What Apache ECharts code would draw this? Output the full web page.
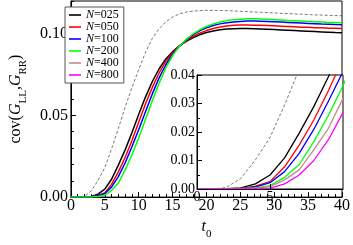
<!DOCTYPE html>
<html><head><meta charset="utf-8">
<script src="https://cdn.jsdelivr.net/npm/echarts@6/dist/echarts.min.js"></script>
<style>html,body{margin:0;padding:0;background:#fff}#c{width:353px;height:245px}</style>
</head><body><div id="c"></div>
<script>
const t0 = [0,1,2,3,4,5,6,7,8,9,10,11,12,13,14,15,16,17,18,19,20,21,22,23,24,25,26,27,28,29,30,31,32,33,34,35,36,37,38,39,40];
const seriesNames = ['N=025','N=050','N=100','N=200','N=400','N=800'];
const seriesColors = ['#000000','#ff0000','#0000ff','#00ff00','#bc8f8f','#ff00ff'];
const n025 = [0,0,0.0001,0.0004,0.0018,0.0049,0.0109,0.0196,0.0289,0.0394,0.0505,0.0612,0.0706,0.0784,0.0845,0.0890,0.0925,0.0953,0.0975,0.0993,0.1007,0.1017,0.1024,0.1028,0.1030,0.1031,0.1031,0.1030,0.1029,0.1027,0.1025,0.1023,0.1021,0.1019,0.1017,0.1015,0.1013,0.1011,0.1009,0.1007,0.1006];
const n050 = [0,0,0,0.0002,0.0010,0.0026,0.0078,0.0154,0.0242,0.0345,0.0458,0.0570,0.0670,0.0758,0.0830,0.0883,0.0924,0.0957,0.0983,0.1003,0.1019,0.1032,0.1041,0.1047,0.1051,0.1053,0.1053,0.1052,0.1051,0.1050,0.1048,0.1046,0.1044,0.1042,0.1040,0.1039,0.1037,0.1036,0.1034,0.1033,0.1032];
const n100 = [0,0,0,0.0001,0.0007,0.0022,0.0061,0.0125,0.0209,0.0308,0.0412,0.0522,0.0630,0.0728,0.0810,0.0874,0.0923,0.0962,0.0993,0.1017,0.1036,0.1050,0.1060,0.1067,0.1072,0.1075,0.1077,0.1077,0.1076,0.1075,0.1073,0.1071,0.1069,0.1067,0.1065,0.1063,0.1061,0.1059,0.1058,0.1056,0.1055];
const n200 = [0,0,0,0.0001,0.0004,0.0012,0.0041,0.0086,0.0166,0.0258,0.0362,0.0475,0.0588,0.0695,0.0790,0.0866,0.0923,0.0965,0.0998,0.1024,0.1044,0.1059,0.1071,0.1080,0.1086,0.1089,0.1091,0.1091,0.1090,0.1088,0.1086,0.1084,0.1081,0.1079,0.1077,0.1075,0.1073,0.1071,0.1069,0.1068,0.1067];
const n400 = [0,0,0,0.0001,0.0003,0.0008,0.0032,0.0067,0.0137,0.0213,0.0318];
const n800 = [0,0,0,0,0.0001,0.0003,0.0018,0.0049,0.0100,0.0173,0.0268];
const ref = [0,0,0.0005,0.0037,0.0102,0.0181,0.0295,0.0420,0.0550,0.0670,0.0780,0.0885,0.0970,0.1030,0.1072,0.1102,0.1121,0.1132,0.1138,0.1141,0.1143,0.1143,0.1142,0.1141,0.1139,0.1137,0.1135,0.1133,0.1131,0.1129,0.1127,0.1125,0.1123,0.1121,0.1119,0.1117,0.1115,0.1114,0.1112,0.1111,0.1110];
const mainXTicks = [0,40,5];
const mainYTicks = [0,0.12,0.05];
const insetXTicks = [0,10,5];
const insetYTicks = [0,0.04,0.01];

const allSets = [n025,n050,n100,n200,n400,n800];
const pairs = arr => arr.map((v,i)=>[t0[i],v]);
const F = 'Liberation Serif';

const series = [];
series.push({type:'line',xAxisIndex:0,yAxisIndex:0,data:pairs(ref),symbol:'none',silent:true,
  lineStyle:{color:'#555',width:0.8,type:[3,2]},z:2});
for (let k=0;k<4;k++) series.push({type:'line',name:seriesNames[k],xAxisIndex:0,yAxisIndex:0,data:pairs(allSets[k]),
  symbol:'none',color:seriesColors[k],lineStyle:{width:1.5,color:seriesColors[k]},z:3});
series.push({type:'line',xAxisIndex:1,yAxisIndex:2,data:pairs(ref),symbol:'none',silent:true,
  lineStyle:{color:'#555',width:0.8,type:[3,2]},z:11,clip:true});
for (let k=0;k<6;k++) series.push({type:'line',name:seriesNames[k],xAxisIndex:1,yAxisIndex:2,data:pairs(allSets[k]),
  symbol:'none',color:seriesColors[k],lineStyle:{width:1.3,color:seriesColors[k]},z:11,clip:true});

const chart = echarts.init(document.getElementById('c'),null,{renderer:'canvas'});
chart.setOption({
  animation:false,
  backgroundColor:'#fff',
  grid:[
    {left:60,top:1,width:284,height:209,show:true,borderColor:'#000',borderWidth:1,backgroundColor:'transparent'},
    {left:197,top:75,width:146,height:114,show:true,borderColor:'#000',borderWidth:1,backgroundColor:'#fff',z:10}
  ],
  legend:{
    data:seriesNames.map((n,k)=>({name:n,icon:'rect',itemStyle:{color:seriesColors[k]}})),
    orient:'vertical',left:65,top:7,itemWidth:12,itemHeight:1.6,itemGap:0,
    padding:[2,5,2,4],borderColor:'#555',borderWidth:1,backgroundColor:'#fff',z:20,selectedMode:false,
    formatter:n=>'{i|N}{r|'+n.slice(1)+'}',
    textStyle:{fontFamily:F,fontSize:12,lineHeight:11.5,color:'#000',
      rich:{i:{fontFamily:F,fontSize:12,fontStyle:'italic',color:'#000',lineHeight:11.5},
            r:{fontFamily:F,fontSize:12,color:'#000',lineHeight:11.5}}}
  },
  xAxis:[
    {type:'value',gridIndex:0,min:mainXTicks[0],max:mainXTicks[1],interval:mainXTicks[2],
     axisLine:{lineStyle:{color:'#000',width:1}},splitLine:{show:false},
     axisTick:{inside:true,length:5,lineStyle:{color:'#000'}},
     minorTick:{show:true,splitNumber:5,length:3,lineStyle:{color:'#000'}},
     axisLabel:{fontFamily:F,fontSize:16,color:'#000',margin:1},
     name:'{t|t}{s|0}',nameLocation:'middle',nameGap:14,
     nameTextStyle:{rich:{
       t:{fontFamily:F,fontSize:16,fontStyle:'italic',color:'#000',verticalAlign:'bottom',lineHeight:16,padding:[0,0,5,0]},
       s:{fontFamily:F,fontSize:11,color:'#000',verticalAlign:'bottom',lineHeight:11}}}},
    {type:'value',gridIndex:1,min:insetXTicks[0],max:insetXTicks[1],interval:insetXTicks[2],z:12,
     axisLine:{lineStyle:{color:'#000',width:1}},splitLine:{show:false},
     axisTick:{inside:true,length:5,lineStyle:{color:'#000'}},
     axisLabel:{fontFamily:F,fontSize:14,color:'#000',margin:1,showMaxLabel:false}}
  ],
  yAxis:[
    {type:'value',gridIndex:0,min:mainYTicks[0],max:mainYTicks[1],interval:mainYTicks[2],
     axisLine:{lineStyle:{color:'#000',width:1}},splitLine:{show:false},
     axisTick:{inside:true,length:5,lineStyle:{color:'#000'}},
     axisLabel:{fontFamily:F,fontSize:16,color:'#000',margin:3,showMaxLabel:false,formatter:v=>v.toFixed(2)},
     name:'{n|cov(}{g|G}{s|LL}{n|,}{g|G}{s|RR}{n|)}',nameLocation:'middle',nameGap:40,nameRotate:90,
     nameTextStyle:{rich:{
       n:{fontFamily:F,fontSize:16,color:'#000',verticalAlign:'bottom',lineHeight:16,padding:[0,0,5,0]},
       g:{fontFamily:F,fontSize:16,fontStyle:'italic',color:'#000',verticalAlign:'bottom',lineHeight:16,padding:[0,0,5,0]},
       s:{fontFamily:F,fontSize:11,color:'#000',verticalAlign:'bottom',lineHeight:11}}}},
    {type:'value',gridIndex:0,min:0,max:0.12,interval:0.01,position:'left',
     axisLine:{show:false},splitLine:{show:false},axisLabel:{show:false},
     axisTick:{inside:true,length:3,lineStyle:{color:'#000'}}},
    {type:'value',gridIndex:1,min:insetYTicks[0],max:insetYTicks[1],interval:insetYTicks[2],z:12,
     axisLine:{lineStyle:{color:'#000',width:1}},splitLine:{show:false},
     axisTick:{inside:true,length:5,lineStyle:{color:'#000'}},
     minorTick:{show:true,splitNumber:2,length:3,lineStyle:{color:'#000'}},
     axisLabel:{fontFamily:F,fontSize:14,color:'#000',margin:2,formatter:v=>v.toFixed(2)}}
  ],
  series:series
});
</script></body></html>
